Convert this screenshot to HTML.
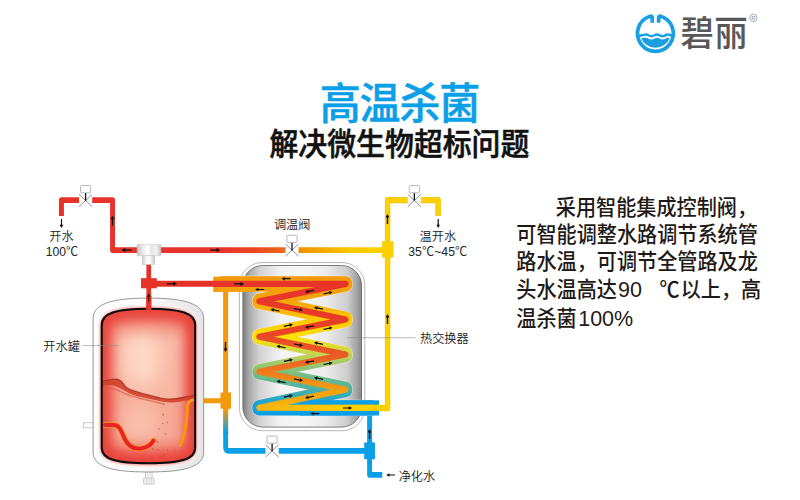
<!DOCTYPE html>
<html lang="zh-CN">
<head>
<meta charset="utf-8">
<title>高温杀菌</title>
<style>
html,body{margin:0;padding:0;background:#fff;}
body{width:800px;height:500px;overflow:hidden;position:relative;font-family:"Liberation Sans","Noto Sans CJK SC",sans-serif;}
svg{position:absolute;left:0;top:0;display:block;}
.t{font-family:"Liberation Sans","Noto Sans CJK SC",sans-serif;}
</style>
</head>
<body>
<svg width="800" height="500" viewBox="0 0 800 500">
<defs>
  <linearGradient id="gHot" x1="186" y1="0" x2="451" y2="0" gradientUnits="userSpaceOnUse">
    <stop offset="0" stop-color="#e6332a"/>
    <stop offset="0.27" stop-color="#e6352a"/>
    <stop offset="0.42" stop-color="#e9481f"/>
    <stop offset="0.55" stop-color="#ee6a1c"/>
    <stop offset="0.62" stop-color="#f39200"/>
    <stop offset="0.72" stop-color="#f7ab00"/>
    <stop offset="0.83" stop-color="#fcc800"/>
    <stop offset="0.93" stop-color="#fdd000"/>
    <stop offset="1" stop-color="#fdd000"/>
  </linearGradient>
  <linearGradient id="gOuter" x1="0" y1="277" x2="0" y2="415" gradientUnits="userSpaceOnUse">
    <stop offset="0" stop-color="#f39a0c"/>
    <stop offset="0.17" stop-color="#f5a40a"/>
    <stop offset="0.31" stop-color="#fcc800"/>
    <stop offset="0.43" stop-color="#ffe100"/>
    <stop offset="0.56" stop-color="#c3d555"/>
    <stop offset="0.69" stop-color="#7cbf7e"/>
    <stop offset="0.81" stop-color="#4bb2a6"/>
    <stop offset="0.93" stop-color="#12a3dc"/>
    <stop offset="1" stop-color="#0a9fe6"/>
  </linearGradient>
  <linearGradient id="gInner" x1="0" y1="281" x2="0" y2="411" gradientUnits="userSpaceOnUse">
    <stop offset="0" stop-color="#e7342a"/>
    <stop offset="0.3" stop-color="#e83a28"/>
    <stop offset="0.57" stop-color="#eb5a24"/>
    <stop offset="0.7" stop-color="#ef7a1c"/>
    <stop offset="0.84" stop-color="#f5a010"/>
    <stop offset="0.95" stop-color="#f9b20e"/>
    <stop offset="1" stop-color="#fab60c"/>
  </linearGradient>
  <linearGradient id="gYel" x1="310" y1="0" x2="405" y2="0" gradientUnits="userSpaceOnUse">
    <stop offset="0" stop-color="#fdd000" stop-opacity="0"/>
    <stop offset="1" stop-color="#fdd000" stop-opacity="1"/>
  </linearGradient>
  <linearGradient id="gOB" x1="0" y1="410" x2="0" y2="432" gradientUnits="userSpaceOnUse">
    <stop offset="0" stop-color="#f39a0c"/>
    <stop offset="1" stop-color="#0a9fe6"/>
  </linearGradient>
  <linearGradient id="gHx" x1="242.700" y1="0" x2="361.500" y2="0" gradientUnits="userSpaceOnUse">
    <stop offset="0" stop-color="#7d7d7d"/>
    <stop offset="0.05" stop-color="#a6a6a6"/>
    <stop offset="0.14" stop-color="#d2d2d2"/>
    <stop offset="0.32" stop-color="#f3f3f3"/>
    <stop offset="0.5" stop-color="#f7f7f7"/>
    <stop offset="0.7" stop-color="#ececec"/>
    <stop offset="0.88" stop-color="#cdcdcd"/>
    <stop offset="0.96" stop-color="#a4a4a4"/>
    <stop offset="1" stop-color="#858585"/>
  </linearGradient>
  <linearGradient id="gMix" x1="137" y1="0" x2="161" y2="0" gradientUnits="userSpaceOnUse">
    <stop offset="0" stop-color="#c4c4c4"/>
    <stop offset="0.25" stop-color="#ececec"/>
    <stop offset="0.45" stop-color="#ffffff"/>
    <stop offset="0.6" stop-color="#e6e6e6"/>
    <stop offset="0.8" stop-color="#f2f2f2"/>
    <stop offset="1" stop-color="#c4c4c4"/>
  </linearGradient>
  <linearGradient id="gMix2" x1="142.300" y1="0" x2="154.600" y2="0" gradientUnits="userSpaceOnUse">
    <stop offset="0" stop-color="#c8c8c8"/>
    <stop offset="0.3" stop-color="#f4f4f4"/>
    <stop offset="0.55" stop-color="#ffffff"/>
    <stop offset="1" stop-color="#cacaca"/>
  </linearGradient>
  <linearGradient id="gShell" x1="93" y1="0" x2="204" y2="0" gradientUnits="userSpaceOnUse">
    <stop offset="0" stop-color="#ffffff"/>
    <stop offset="0.45" stop-color="#fbfbfb"/>
    <stop offset="1" stop-color="#e4e4e4"/>
  </linearGradient>
  <linearGradient id="gTopGlow" x1="0" y1="308" x2="0" y2="342" gradientUnits="userSpaceOnUse">
    <stop offset="0" stop-color="#e8423a" stop-opacity="0.550"/>
    <stop offset="1" stop-color="#e8423a" stop-opacity="0"/>
  </linearGradient>
  <linearGradient id="gBotGlow" x1="0" y1="464" x2="0" y2="434" gradientUnits="userSpaceOnUse">
    <stop offset="0" stop-color="#e8423a" stop-opacity="0.500"/>
    <stop offset="1" stop-color="#e8423a" stop-opacity="0"/>
  </linearGradient>
  <radialGradient id="gTank" cx="0.5" cy="0.42" r="0.62" fx="0.5" fy="0.3">
    <stop offset="0" stop-color="#fde0d2"/>
    <stop offset="0.45" stop-color="#f9bfae"/>
    <stop offset="0.8" stop-color="#f0837a"/>
    <stop offset="1" stop-color="#e9554e"/>
  </radialGradient>
  <linearGradient id="gTankH" x1="101" y1="0" x2="196" y2="0" gradientUnits="userSpaceOnUse">
    <stop offset="0" stop-color="#e8483f" stop-opacity="0.95"/>
    <stop offset="0.22" stop-color="#f08a7c" stop-opacity="0.35"/>
    <stop offset="0.5" stop-color="#fff" stop-opacity="0"/>
    <stop offset="0.78" stop-color="#f08a7c" stop-opacity="0.35"/>
    <stop offset="1" stop-color="#e8483f" stop-opacity="0.95"/>
  </linearGradient>
  <clipPath id="cTank"><path id="pTankIn" d="M101.75 325.00 C101.75 313.50 115.45 308.75 148.45 308.75 C181.45 308.75 195.15 313.50 195.15 325.00 L195.15 448.00 C195.15 459.00 181.45 463.30 148.45 463.30 C115.45 463.30 101.75 459.00 101.75 448.00 Z"/></clipPath>
  <clipPath id="cTankOut"><path d="M93.10 319.00 C93.10 304.50 109.40 298.10 148.40 298.10 C187.40 298.10 203.70 304.50 203.70 319.00 L203.70 452.00 C203.70 466.00 187.40 472.00 148.40 472.00 C109.40 472.00 93.10 466.00 93.10 452.00 Z"/></clipPath>
  <filter id="blur1" x="-20%" y="-20%" width="140%" height="140%"><feGaussianBlur stdDeviation="1.100"/></filter>
  <filter id="blur2" x="-20%" y="-20%" width="140%" height="140%"><feGaussianBlur stdDeviation="1.800"/></filter>
  <filter id="blur4" x="-20%" y="-20%" width="140%" height="140%"><feGaussianBlur stdDeviation="6"/></filter>
  <filter id="blur8" x="-50%" y="-50%" width="200%" height="200%"><feGaussianBlur stdDeviation="9"/></filter>
  <g id="valve">
    <rect x="-6.600" y="-6.500" width="13.200" height="13" fill="#fff"/>
    <path d="M-6.600 -6.150 L6.600 6.150 M6.600 -6.150 L-6.600 6.150" fill="none" stroke="#555" stroke-width="0.650"/>
    <line x1="0" y1="0.300" x2="0" y2="-7.600" stroke="#111" stroke-width="1.300"/>
    <rect x="-5.100" y="-14.900" width="10.200" height="7.300" rx="1" fill="#fff" stroke="#a6a6a6" stroke-width="0.800"/>
  </g>
  <path id="ar" d="M-5 -0.650 L1.400 -0.650 L1.400 -2 L5 0 L1.400 2 L1.400 0.650 L-5 0.650 Z" fill="#0d0d0d"/>
</defs>

<!-- ========== LOGO ========== -->
<g id="logo">
  <path d="M658.650 22.700 L658.650 17.600 Q658.650 15.800 660.700 16.300 A17.900 17.900 0 1 1 650.100 16.300 Q652.250 15.800 652.250 17.600 L652.250 22.700" fill="none" stroke="#1a9fe3" stroke-width="3.700" stroke-linejoin="round"/>
  <path d="M638.800 36 C642 34.900 644 34.400 646 34.400 S649 36.200 651.500 36.200 S655 34.400 657 34.400 S660.500 36.200 662.500 36.200 S666 34.400 668 34.400 S670.500 35.200 672 36" fill="none" stroke="#1a9fe3" stroke-width="2.500"/>
  <path d="M641.150 37.900 C643 38 644.500 37.800 646 37.800 S649 39.600 651.500 39.600 S655 37.800 657 37.800 S660.500 39.600 662.500 39.600 S666 37.800 668 37.800 S669 38 669.650 37.900 A14.900 14 0 0 1 641.150 37.900 Z" fill="#1a9fe3"/>
  <text class="t" transform="translate(680.500 46.100) scale(1 1.050)" x="0" y="0" font-size="33.500" font-weight="500" fill="#595757" letter-spacing="0.300">碧丽</text>
  <circle cx="753.300" cy="17.900" r="3.700" fill="none" stroke="#8a8a8a" stroke-width="0.700"/>
  <text class="t" x="753.300" y="20" font-size="5.800" fill="#8a8a8a" text-anchor="middle">R</text>
</g>

<!-- ========== TITLES ========== -->
<text class="t" transform="translate(399.400 119.300) scale(1 1.040)" x="0" y="0" font-size="41" font-weight="500" fill="#0a9fe6" stroke="#0a9fe6" stroke-width="0.450" stroke-linejoin="round" text-anchor="middle" letter-spacing="-1.100">高温杀菌</text>
<text class="t" transform="translate(399.400 154.850) scale(1 1.074)" x="0" y="0" font-size="28.900" font-weight="500" fill="#111" stroke="#111" stroke-width="0.550" stroke-linejoin="round" text-anchor="middle">解决微生物超标问题</text>

<!-- ========== RIGHT PARAGRAPH ========== -->
<g class="t" font-size="20.150" font-weight="500" fill="#1f1a17">
  <text transform="translate(555.800 215.400) scale(1 1.050)">采用智能集成控制阀，</text>
  <text transform="translate(516.300 242.400) scale(1 1.050)">可智能调整水路调节系统管</text>
  <text transform="translate(516.300 269.400) scale(1 1.050)">路水温，可调节全管路及龙</text>
  <text transform="translate(516.300 297.100) scale(1 1.050)">头水温高达<tspan x="101.700" font-size="21.500" font-weight="400">90</tspan><tspan x="143.200">℃</tspan><tspan x="164.400">以上，高</tspan></text>
  <text transform="translate(516.300 325.600) scale(1 1.050)">温杀菌<tspan font-size="21.500" font-weight="400" dx="1.500">100%</tspan></text>
</g>

<!-- ========== PIPES ========== -->
<g id="pipes" fill="none" stroke-linejoin="round" transform="scale(0.8600 1)">
  <path d="M71.45 215.90 L71.45 200.10 L130.87 200.10 L130.87 250.10 L162.79 250.10" stroke="#e6332a" stroke-width="5.75" />
  <path d="M183.72 250.10 L448.84 250.10" stroke="url(#gHot)" stroke-width="5.75" />
  <path d="M395.35 408.20 L450.70 408.20 L450.70 200.20 L509.42 200.20 L509.42 215.80" stroke="#f0c000" stroke-width="6.30" />
  <path d="M395.35 408.20 L450.70 408.20 L450.70 200.20 L509.42 200.20 L509.42 215.80" stroke="#fdd000" stroke-width="5.30" />
  <path d="M172.97 262.00 L172.97 309.50" stroke="#e6332a" stroke-width="5.50" />
  <path d="M174.42 283.75 L251.16 283.75" stroke="#e6332a" stroke-width="5.80" />
  <path d="M262.38 290.00 L262.38 410.00" stroke="#f39a0c" stroke-width="5.90" />
  <path d="M236.98 400.75 L258.14 400.75" stroke="#f39a0c" stroke-width="5.10" />
  <path d="M262.38 409.00 L262.38 433.00" stroke="url(#gOB)" stroke-width="5.90" />
  <path d="M262.38 432 L262.38 447.4 Q262.38 450.9 266.98 450.9 L425.58 450.9" stroke="#0a9fe6" stroke-width="5.7" stroke-linejoin="round"/>
  <path d="M429.77 414.00 L429.77 474.80 L444.53 474.80" stroke="#0a9fe6" stroke-width="5.75" />
</g>
<g id="boxes">
<rect x="382.20" y="241.60" width="11.00" height="15.60" fill="#fdd000" stroke="#eec000" stroke-width="0.4"/>
<rect x="141.00" y="278.20" width="15.80" height="10.10" fill="#e6332a" />
<rect x="220.50" y="392.50" width="10.50" height="16.20" fill="#f39a0c" />
<rect x="364.20" y="442.50" width="10.80" height="16.70" fill="#0a9fe6" />
</g>

<!-- ========== HEAT EXCHANGER ========== -->
<g id="hx">
  <rect x="239.400" y="262.500" width="125.400" height="168.200" rx="23" ry="23" fill="#fff" stroke="#9a9a9a" stroke-width="0.700"/>
  <rect x="242.900" y="265.500" width="118.600" height="161.600" rx="20" ry="20" fill="url(#gHx)" stroke="#5e5e5e" stroke-width="0.800"/>
  <g transform="scale(0.8600 1)" fill="none">
    <rect x="248.26" y="276.800" width="48.26" height="15" fill="#f39a0c"/>
    <path d="M258.14 283.90 L402.21 283.90 L301.05 301.30 L402.21 319.40 L301.05 336.80 L402.21 354.50 L301.05 371.80 L402.21 389.40 L301.05 407.80 L432.56 407.80" stroke="#f6e6e2" stroke-width="16.300" stroke-linejoin="round" stroke-linecap="round" opacity="0.900"/>
    <rect x="248.26" y="276.800" width="48.26" height="15" fill="#f39a0c"/>
    <path d="M258.14 283.90 L402.21 283.90 L301.05 301.30 L402.21 319.40 L301.05 336.80 L402.21 354.50 L301.05 371.80 L402.21 389.40 L301.05 407.80 L432.56 407.80" stroke="url(#gOuter)" stroke-width="15.300" stroke-linejoin="round" stroke-linecap="round"/>
    <rect x="348.84" y="400.400" width="91.86" height="15.100" fill="#0a9fe6"/>
    <path d="M247.67 283.90 L402.21 283.90 L301.05 301.30 L402.21 319.40 L301.05 336.80 L402.21 354.50 L301.05 371.80 L402.21 389.40 L301.05 407.80 L441.86 407.80" stroke="url(#gInner)" stroke-width="6.100" stroke-linejoin="round" stroke-linecap="butt"/>
    <path d="M311.63 407.80 L446.51 407.80" stroke="url(#gYel)" stroke-width="6.100"/>
  </g>
</g>

<!-- ========== MIXER ========== -->
<g id="mixer">
  <rect x="137.100" y="244.400" width="23.800" height="11.400" rx="0.800" fill="url(#gMix)" stroke="#c2c2c2" stroke-width="0.500"/>
  <rect x="142.300" y="255.800" width="12.300" height="8.800" fill="url(#gMix2)" stroke="#c2c2c2" stroke-width="0.500"/>
</g>

<!-- ========== TANK ========== -->
<g id="tank">
  <rect x="83.500" y="422.800" width="10" height="5" fill="#fff" stroke="#aaa" stroke-width="0.600"/>
  <rect x="145.400" y="470" width="6.700" height="8.500" fill="#efefef" stroke="#b0b0b0" stroke-width="0.500"/>
  <rect x="143.500" y="478.100" width="10.500" height="6" rx="0.800" fill="#f1f1f1" stroke="#a5a5a5" stroke-width="0.500"/>
  <path d="M146.500 478 L146.500 484.300 M149 478 L149 484.300 M151.400 478 L151.400 484.300" stroke="#c4c4c4" stroke-width="0.500"/>
  <path id="pTankOut" d="M93.10 319.00 C93.10 304.50 109.40 298.10 148.40 298.10 C187.40 298.10 203.70 304.50 203.70 319.00 L203.70 452.00 C203.70 466.00 187.40 472.00 148.40 472.00 C109.40 472.00 93.10 466.00 93.10 452.00 Z" fill="url(#gShell)" stroke="#8c8c8c" stroke-width="0.900"/>
  <g clip-path="url(#cTankOut)">
    <use href="#pTankIn" fill="none" stroke="#ffffff" stroke-width="7" filter="url(#blur2)" opacity="0.900"/>
    <use href="#pTankIn" fill="none" stroke="#f59a92" stroke-width="4.500" filter="url(#blur1)" opacity="0.850"/>
  </g>
  <use href="#pTankIn" fill="#f7b7a3"/>
  <g clip-path="url(#cTank)">
    <ellipse cx="142" cy="358" rx="20" ry="30" fill="#fdd8c5" filter="url(#blur8)"/>
    <!-- water body -->
    <path d="M100 382 C106 381 110 378.500 118 379.300 C123 381 124 386 127 388 C133 391.500 140 393 158 397.500 C164 399.500 170 400 183 397.500 C188 396.500 193 395.500 197 395 L197 470 L100 470 Z" fill="#ee7f6e" opacity="0.260"/>
    <ellipse cx="140" cy="422" rx="20" ry="24" fill="#fccdb9" opacity="0.600" filter="url(#blur8)"/>
    <!-- edge glow -->
    <use href="#pTankIn" fill="none" stroke="#e8423a" stroke-width="21" filter="url(#blur4)"/>
    <rect x="100" y="305" width="98" height="40" fill="url(#gTopGlow)"/>
    <rect x="100" y="432" width="98" height="34" fill="url(#gBotGlow)"/>
    <!-- water surface -->
    <path d="M100 382 C106 381 110 378.500 118 379.300 C123 381 124 386 127 388 C133 391.500 140 393 158 397.500 C164 399.500 170 400 183 397.500 C188 396.500 193 395.500 197 395 L197 398 C190 399 184 401.500 172 402.500 C160 402 150 398.500 138 396.500 C128 394 120 387 112 385 C107 384.500 104 386 100 386 Z" fill="#cf3f2a" opacity="0.880"/>
    <path d="M100 382 C106 381 110 378.500 118 379.300 C123 381 124 386 127 388 C133 391.500 140 393 158 397.500 C164 399.500 170 400 183 397.500 C188 396.500 193 395.500 197 395" fill="none" stroke="#b2341e" stroke-width="1.300" opacity="0.900"/>
    <path d="M103 388.500 C112 387 118 390 126 394 C136 398.500 150 400 165 404.500" fill="none" stroke="#e25c4c" stroke-width="1.600" opacity="0.650"/>
    <!-- heater -->
    <path d="M105 425 L113.500 425 C119 425 121 430 123 435 C126 443 130.500 448.600 138.500 448.600 C145.500 448.600 150.500 445.500 153.600 440.600" fill="none" stroke="#f39a0c" stroke-width="5.400" stroke-linecap="round"/>
    <path d="M105 425 L113.500 425 C119 425 121 430 123 435 C126 443 130.500 448.600 138.500 448.600 C145.500 448.600 150.500 445.500 153.600 440.600" fill="none" stroke="#e8212b" stroke-width="3.900" stroke-linecap="round"/>
    <path d="M195 399.800 C189 399.800 187.500 402.500 187.300 408 C187 424 185 435 180.300 445.300" fill="none" stroke="#f39a0c" stroke-width="3" stroke-linecap="round"/>
    <g fill="#cf4a3c" opacity="0.700">
      <circle cx="163.200" cy="414.700" r="1"/><circle cx="162.600" cy="423.400" r="0.700"/><circle cx="167.400" cy="422.700" r="0.600"/>
      <circle cx="159" cy="429" r="0.800"/><circle cx="165.300" cy="433.800" r="0.700"/><circle cx="157.500" cy="442.200" r="1"/>
      <circle cx="152.700" cy="449" r="0.900"/><circle cx="158" cy="449.600" r="0.900"/><circle cx="164.300" cy="455.300" r="0.900"/>
      <circle cx="167.400" cy="450" r="0.800"/><circle cx="151.700" cy="457.400" r="0.900"/><circle cx="160" cy="457.400" r="0.800"/>
      <circle cx="174.800" cy="450.600" r="0.700"/><circle cx="104.400" cy="438.500" r="0.600"/><circle cx="103.400" cy="443" r="0.600"/>
    </g>
  </g>
  <use href="#pTankIn" fill="none" stroke="#0c0c0c" stroke-width="2.100"/>
  <path d="M148.800 296 L148.800 310" stroke="#e6332a" stroke-width="5.400"/>
</g>

<!-- ========== VALVES ========== -->
<use href="#valve" x="85.600" y="200.450"/>
<use href="#valve" x="292" y="250.100"/>
<use href="#valve" x="414.350" y="200.450"/>
<use href="#valve" x="272.100" y="450.900"/>

<!-- ========== ARROWS ========== -->
<g id="arrows">
<use href="#ar" transform="translate(61.5 223.5) rotate(90.0) scale(0.90)"/>
<use href="#ar" transform="translate(112.5 220.7) rotate(270.0) scale(1.00)"/>
<use href="#ar" transform="translate(126.6 250.1) rotate(180.0) scale(1.00)"/>
<use href="#ar" transform="translate(215.3 250.1) rotate(0.0) scale(1.00)"/>
<use href="#ar" transform="translate(171.9 283.8) rotate(0.0) scale(1.00)"/>
<use href="#ar" transform="translate(148.8 297.6) rotate(270.0) scale(0.80)"/>
<use href="#ar" transform="translate(239.1 283.9) rotate(0.0) scale(1.00)"/>
<use href="#ar" transform="translate(286.0 278.7) rotate(180.0) scale(0.90)"/>
<use href="#ar" transform="translate(259.7 289.5) rotate(180.0) scale(0.90)"/>
<use href="#ar" transform="translate(225.5 347.0) rotate(90.0) scale(1.00)"/>
<use href="#ar" transform="translate(387.5 319.0) rotate(270.0) scale(1.00)"/>
<use href="#ar" transform="translate(387.5 219.0) rotate(270.0) scale(1.00)"/>
<use href="#ar" transform="translate(438.2 223.4) rotate(90.0) scale(0.90)"/>
<use href="#ar" transform="translate(369.6 434.0) rotate(270.0) scale(1.00)"/>
<use href="#ar" transform="translate(347.6 408.0) rotate(0.0) scale(0.90)"/>
<use href="#ar" transform="translate(314.8 413.6) rotate(180.0) scale(0.90)"/>
<use href="#ar" transform="translate(390.6 475.0) rotate(180.0) scale(0.88)"/>
<use href="#ar" transform="translate(309.5 291.2) rotate(168.7) scale(0.92)"/>
<use href="#ar" transform="translate(328.0 293.0) rotate(348.7) scale(0.92)"/>
<use href="#ar" transform="translate(298.5 309.5) rotate(11.8) scale(0.92)"/>
<use href="#ar" transform="translate(275.0 310.1) rotate(191.8) scale(0.92)"/>
<use href="#ar" transform="translate(318.5 308.2) rotate(191.8) scale(0.92)"/>
<use href="#ar" transform="translate(309.5 326.7) rotate(168.7) scale(0.92)"/>
<use href="#ar" transform="translate(288.4 325.4) rotate(348.7) scale(0.92)"/>
<use href="#ar" transform="translate(328.0 328.5) rotate(348.7) scale(0.92)"/>
<use href="#ar" transform="translate(298.5 344.9) rotate(11.5) scale(0.92)"/>
<use href="#ar" transform="translate(281.0 346.8) rotate(191.5) scale(0.92)"/>
<use href="#ar" transform="translate(318.5 343.4) rotate(191.5) scale(0.92)"/>
<use href="#ar" transform="translate(309.5 361.7) rotate(168.8) scale(0.92)"/>
<use href="#ar" transform="translate(288.4 360.4) rotate(348.8) scale(0.92)"/>
<use href="#ar" transform="translate(328.0 363.6) rotate(348.8) scale(0.92)"/>
<use href="#ar" transform="translate(298.5 379.8) rotate(11.4) scale(0.92)"/>
<use href="#ar" transform="translate(281.0 381.8) rotate(191.4) scale(0.92)"/>
<use href="#ar" transform="translate(318.5 378.4) rotate(191.4) scale(0.92)"/>
<use href="#ar" transform="translate(309.5 397.1) rotate(168.1) scale(0.92)"/>
<use href="#ar" transform="translate(288.4 396.1) rotate(348.1) scale(0.92)"/>
</g>

<!-- ========== LABELS ========== -->
<g class="t" font-size="12.200" font-weight="350" fill="#222">
  <text x="61.500" y="240.500" text-anchor="middle">开水</text>
  <text x="62" y="256.300" text-anchor="middle">100℃</text>
  <text x="292.200" y="228.800" text-anchor="middle">调温阀</text>
  <text x="437.800" y="240.700" text-anchor="middle">温开水</text>
  <text x="408.200" y="256" textLength="59" lengthAdjust="spacing">35℃~45℃</text>
  <text x="43.300" y="350.700">开水罐</text>
  <text x="420" y="343">热交换器</text>
  <text x="398.700" y="480.600">净化水</text>
</g>
<path d="M82.500 345.600 L118.800 345.600 M347 337.700 L415.500 337.700" stroke="#8a8a8a" stroke-width="0.600"/>
</svg>
</body>
</html>
